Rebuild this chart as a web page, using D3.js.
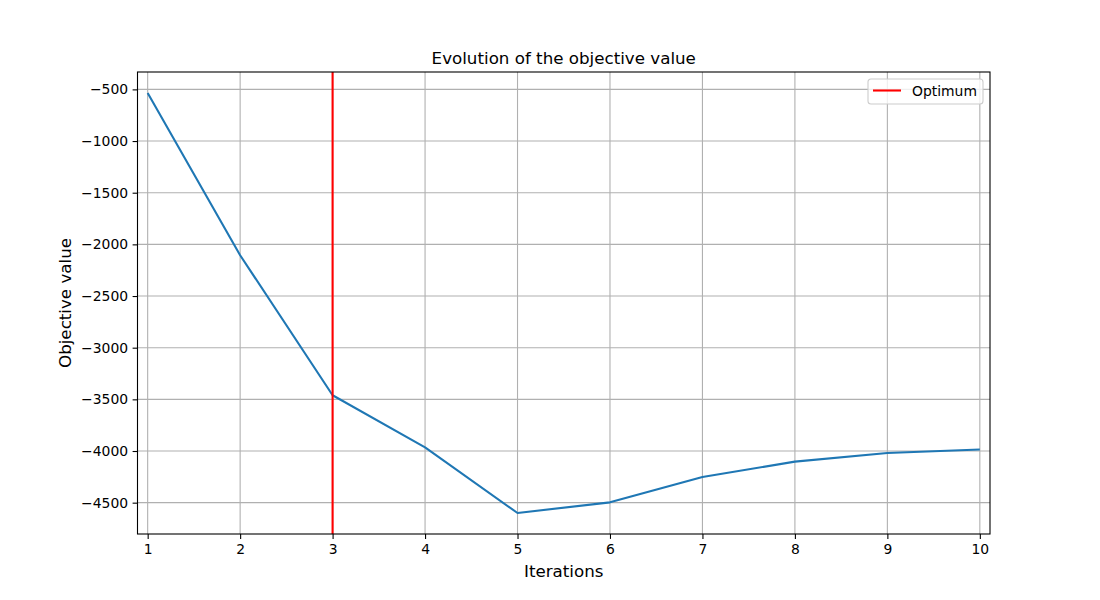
<!DOCTYPE html>
<html>
<head>
  <meta charset="utf-8">
  <title>Evolution of the objective value</title>
  <style>
    body { margin: 0; background: #fff; }
    text { font-family: "DejaVu Sans", sans-serif; fill: #000; }
  </style>
</head>
<body>
  <div id="chart"></div>
  <script src="https://cdn.jsdelivr.net/npm/d3@7/dist/d3.min.js"></script>
  <script type="text/javascript">

  // data
  var iterations = [1, 2, 3, 4, 5, 6, 7, 8, 9, 10];
  var objective = [-535, -2105, -3460, -3965, -4600, -4497, -4252, -4103, -4020, -3985];
  var optimumIter = 3;
  var yTicks = [-500, -1000, -1500, -2000, -2500, -3000, -3500, -4000, -4500];

  var width = 1100, height = 600;
  // plot box (note: "top" is reserved on window, so prefixed names)
  var pLeft = 137.5, pRight = 990, pTop = 72, pBottom = 534;

  var svg = d3.select('#chart')
              .append('svg')
              .attr('width', width)
              .attr('height', height);

  var x = d3.scaleLinear().domain([0.89, 10.11]).range([pLeft, pRight]);
  var yMin = d3.min(objective), yMax = d3.max(objective);
  var pad = (yMax - yMin) * 0.05;
  var y = d3.scaleLinear().domain([yMin - pad, yMax + pad]).range([pBottom, pTop]);

  // grid
  svg.append('g').selectAll('line').data(iterations).enter().append('line')
     .attr('x1', function(d){ return x(d); })
     .attr('x2', function(d){ return x(d); })
     .attr('y1', pTop).attr('y2', pBottom)
     .style('stroke', '#b0b0b0').style('stroke-width', 1.1);

  svg.append('g').selectAll('line').data(yTicks).enter().append('line')
     .attr('y1', function(d){ return y(d); })
     .attr('y2', function(d){ return y(d); })
     .attr('x1', pLeft).attr('x2', pRight)
     .style('stroke', '#b0b0b0').style('stroke-width', 1.1);

  // objective line
  var line = d3.line()
               .x(function(d, i){ return x(iterations[i]); })
               .y(function(d){ return y(d); });

  svg.append('path')
     .datum(objective)
     .attr('d', line)
     .style('fill', 'none')
     .style('stroke', '#1f77b4')
     .style('stroke-width', 2.1)
     .style('stroke-linejoin', 'round');

  // optimum marker
  svg.append('line')
     .attr('x1', x(optimumIter)).attr('x2', x(optimumIter))
     .attr('y1', pTop).attr('y2', pBottom)
     .style('stroke', '#ff0000').style('stroke-width', 2.1);

  // axes
  var xAxis = d3.axisBottom(x).tickValues(iterations).tickSize(4.9).tickPadding(5.5).tickFormat(d3.format('d'));
  var yAxis = d3.axisLeft(y).tickValues(yTicks).tickSize(4.9).tickPadding(4.5)
                .tickFormat(function(d){ return String(d).replace('-', '\u2212'); });

  var gx = svg.append('g').attr('transform', 'translate(0,' + pBottom + ')').call(xAxis);
  var gy = svg.append('g').attr('transform', 'translate(' + pLeft + ',0)').call(yAxis);
  [gx, gy].forEach(function(g){
    g.select('.domain').remove();
    g.selectAll('line').style('stroke', '#000').style('stroke-width', 1.1);
    g.selectAll('text').style('font-size', '13.9px').style('font-family', '"DejaVu Sans", sans-serif');
  });

  // frame
  svg.append('rect')
     .attr('x', pLeft).attr('y', pTop)
     .attr('width', pRight - pLeft).attr('height', pBottom - pTop)
     .style('fill', 'none').style('stroke', '#000').style('stroke-width', 1.1);

  // titles
  svg.append('text')
     .attr('x', (pLeft + pRight) / 2).attr('y', 64)
     .attr('text-anchor', 'middle')
     .style('font-size', '16.7px')
     .text('Evolution of the objective value');

  svg.append('text')
     .attr('x', (pLeft + pRight) / 2).attr('y', 577)
     .attr('text-anchor', 'middle')
     .style('font-size', '16.7px')
     .text('Iterations');

  svg.append('text')
     .attr('transform', 'translate(71,' + ((pTop + pBottom) / 2) + ') rotate(-90)')
     .attr('text-anchor', 'middle')
     .style('font-size', '16.7px')
     .text('Objective value');

  // legend
  var lg = svg.append('g').attr('transform', 'translate(868,79)');
  lg.append('rect')
    .attr('width', 115).attr('height', 25).attr('rx', 3)
    .style('fill', 'rgba(255,255,255,0.8)')
    .style('stroke', '#cccccc').style('stroke-width', 1.1);
  lg.append('line')
    .attr('x1', 5).attr('x2', 33).attr('y1', 11.5).attr('y2', 11.5)
    .style('stroke', '#ff0000').style('stroke-width', 2.1);
  lg.append('text')
    .attr('x', 44).attr('y', 16.5)
    .style('font-size', '13.9px')
    .text('Optimum');

  </script>
</body>
</html>
